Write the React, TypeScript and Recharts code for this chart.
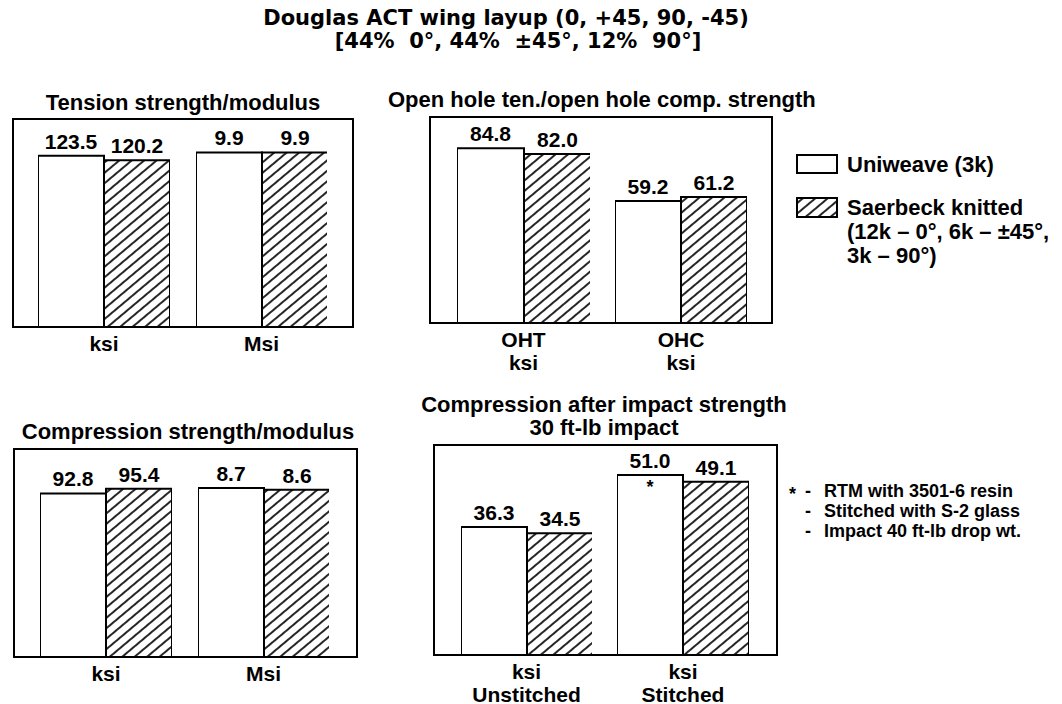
import React from "react";
import { BarChart, Bar, XAxis, YAxis, LabelList } from "recharts";

const FONT = '"Liberation Sans", Arial, Helvetica, sans-serif';

// Tension strength/modulus
const tensionCats = ["ksi", "Msi"];
const tensionUni = [123.5, 9.9];
const tensionSaer = [120.2, 9.9];
const tensionMax = [150, 11.8];

// Open hole tension / compression
const ohCats = ["OHT\nksi", "OHC\nksi"];
const ohUni = [84.8, 59.2];
const ohSaer = [82.0, 61.2];
const ohMax = [100, 100];

// Compression strength/modulus
const compCats = ["ksi", "Msi"];
const compUni = [92.8, 8.7];
const compSaer = [95.4, 8.6];
const compMax = [118, 10.7];

// Compression after impact
const caiCats = ["ksi\nUnstitched", "ksi\nStitched"];
const caiUni = [36.3, 51.0];
const caiSaer = [34.5, 49.1];
const caiNotes = ["", "*"];
const caiMax = [59.5, 59.5];

const seriesNames = ["Uniweave (3k)", "Saerbeck knitted"];

const panels = [
  { key: "ten", title: ["Tension strength/modulus"], titleX: 183, titleY: [110], anchor: "middle",
    box: { x: 13, y: 119, w: 340, h: 208 }, gx: [38, 196], gw: [132, 131],
    cats: tensionCats, uni: tensionUni, saer: tensionSaer, max: tensionMax, notes: null },
  { key: "oh", title: ["Open hole ten./open hole comp. strength"], titleX: 388, titleY: [107], anchor: "start",
    box: { x: 430, y: 117, w: 342, h: 206 }, gx: [457, 615], gw: [133, 132],
    cats: ohCats, uni: ohUni, saer: ohSaer, max: ohMax, notes: null },
  { key: "comp", title: ["Compression strength/modulus"], titleX: 188, titleY: [439], anchor: "middle",
    box: { x: 14, y: 449, w: 343, h: 208 }, gx: [40, 198], gw: [132, 131],
    cats: compCats, uni: compUni, saer: compSaer, max: compMax, notes: null },
  { key: "cai", title: ["Compression after impact strength", "30 ft-lb impact"], titleX: 604, titleY: [412, 435], anchor: "middle",
    box: { x: 434, y: 445, w: 343, h: 210 }, gx: [461, 617], gw: [131, 132],
    cats: caiCats, uni: caiUni, saer: caiSaer, max: caiMax, notes: caiNotes },
];

const fmt = (v: any) => (typeof v === "number" ? v.toFixed(1) : v);

const Hatch = ({ id }: { id: string }) => (
  <pattern id={id} patternUnits="userSpaceOnUse" width={8} height={8} patternTransform="rotate(50)">
    <rect width={8} height={8} fill="#fff" />
    <line x1={4} y1={0} x2={4} y2={8} stroke="#000" strokeWidth={1.7} />
  </pattern>
);

const CatTick = (props: any) => {
  const { x, y, payload } = props;
  const lines = String(payload.value).split("\n");
  return (
    <text x={x} y={y} textAnchor="middle" fontFamily={FONT} fontSize={21} fontWeight="bold" fill="#000">
      {lines.map((l, i) => (
        <tspan key={i} x={x} dy={i === 0 ? 16 : 23}>{l}</tspan>
      ))}
    </text>
  );
};

const Group = ({ id, cat, uni, saer, note, max, left, top, width, plotH }: any) => {
  const data = [{ cat, uni, saer, note }];
  const h = plotH + 60;
  return (
    <div style={{ position: "absolute", left, top, width, height: h }}>
      <BarChart width={width} height={h} data={data} margin={{ top: 0, right: 0, bottom: 0, left: 0 }} barCategoryGap={0} barGap={0}>
        <defs>
          <Hatch id={id} />
        </defs>
        <XAxis dataKey="cat" axisLine={false} tickLine={false} height={60} interval={0} tick={CatTick} />
        <YAxis hide domain={[0, max]} allowDataOverflow />
        <Bar dataKey="uni" name={seriesNames[0]} fill="#fff" stroke="#000" strokeWidth={2} isAnimationActive={false}>
          <LabelList dataKey="uni" position="top" offset={7} formatter={fmt} fill="#000" fontSize={21} fontWeight="bold" fontFamily={FONT} />
          {note ? <LabelList dataKey="note" position="insideTop" offset={5} fill="#000" fontSize={18} fontWeight="bold" fontFamily={FONT} /> : null}
        </Bar>
        <Bar dataKey="saer" name={seriesNames[1]} fill={`url(#${id})`} stroke="#000" strokeWidth={2} isAnimationActive={false}>
          <LabelList dataKey="saer" position="top" offset={7} formatter={fmt} fill="#000" fontSize={21} fontWeight="bold" fontFamily={FONT} />
        </Bar>
      </BarChart>
    </div>
  );
};

export default function App() {
  return (
    <div style={{ position: "absolute", left: 0, top: 0, width: 1062, height: 704, background: "#fff", fontFamily: FONT }}>
      {panels.map((p) => (
        <div
          key={p.key + "-box"}
          style={{
            position: "absolute",
            left: p.box.x - 1,
            top: p.box.y - 1,
            width: p.box.w + 2,
            height: p.box.h + 2,
            border: "2px solid #000",
            boxSizing: "border-box",
          }}
        />
      ))}
      {panels.map((p) =>
        p.cats.map((c, i) => (
          <Group
            key={p.key + i}
            id={`hatch-${p.key}-${i}`}
            cat={c}
            uni={p.uni[i]}
            saer={p.saer[i]}
            note={p.notes ? p.notes[i] : undefined}
            max={p.max[i]}
            left={p.gx[i]}
            top={p.box.y}
            width={p.gw[i]}
            plotH={p.box.h}
          />
        ))
      )}
      <svg width={1062} height={704} style={{ position: "absolute", left: 0, top: 0, pointerEvents: "none" }}>
        <defs>
          <Hatch id="hatch-legend" />
        </defs>
        <g fontFamily='"DejaVu Sans", sans-serif' fontWeight="bold" fontSize={21} fill="#000" textAnchor="middle">
          <text x={506} y={25}>Douglas ACT wing layup (0, +45, 90, -45)</text>
          <text x={518} y={48} style={{ whiteSpace: "pre" }}>[44%  0°, 44%  ±45°, 12%  90°]</text>
        </g>
        <g fontFamily={FONT} fontWeight="bold" fontSize={22} fill="#000">
          {panels.map((p) =>
            p.title.map((t, i) => (
              <text key={p.key + "t" + i} x={p.titleX} y={p.titleY[i]} textAnchor={p.anchor as any}>{t}</text>
            ))
          )}
        </g>
        {/* legend */}
        <rect x={797} y={155} width={40} height={18} fill="#fff" stroke="#000" strokeWidth={2} />
        <rect x={797} y={198} width={40} height={19} fill="url(#hatch-legend)" stroke="#000" strokeWidth={2} />
        <g fontFamily={FONT} fontWeight="bold" fontSize={22} fill="#000">
          <text x={847} y={172}>{seriesNames[0]}</text>
          <text x={847} y={215}>{seriesNames[1]}</text>
          <text x={847} y={239}>(12k – 0°, 6k – ±45°,</text>
          <text x={847} y={263}>3k – 90°)</text>
        </g>
        {/* footnote */}
        <g fontFamily={FONT} fontWeight="bold" fontSize={18} fill="#000">
          <text x={789} y={500}>*</text>
          <text x={805} y={497}>-</text>
          <text x={824} y={497}>RTM with 3501-6 resin</text>
          <text x={805} y={517}>-</text>
          <text x={824} y={517}>Stitched with S-2 glass</text>
          <text x={805} y={537}>-</text>
          <text x={824} y={537}>Impact 40 ft-lb drop wt.</text>
        </g>
      </svg>
    </div>
  );
}
